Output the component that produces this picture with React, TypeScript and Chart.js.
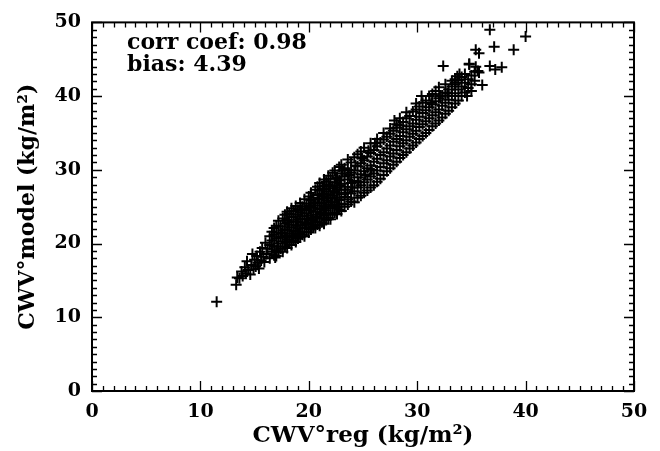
import React, { useEffect, useRef } from "react";
import { Chart, registerables } from "chart.js";

Chart.register(...registerables);

// ---- data ----
const xTicks = [0, 10, 20, 30, 40, 50];
const yTicks = [0, 10, 20, 30, 40, 50];
const xTitle = "CWV°reg (kg/m²)";
const yTitle = "CWV°model (kg/m²)";
const statLines = ["corr coef: 0.98", "bias: 4.39"];

const outliers: [number, number][] = [
  [11.5, 12.1], [13.3, 14.4], [13.4, 15.4], [36.7, 49.0], [40.0, 48.1], [37.1, 46.7],
  [38.9, 46.3], [35.4, 46.3], [35.7, 45.8], [32.4, 44.1], [36.7, 44.1], [37.2, 43.6],
  [37.8, 43.9], [34.8, 44.4], [35.4, 44.0], [35.7, 43.2], [36.0, 41.5], [33.7, 42.7],
  [33.5, 42.3], [30.4, 40.0], [28.4, 37.0], [27.9, 36.7], [34.8, 44.3], [35.6, 43.4],
  [33.9, 43.0], [33.5, 41.6], [32.1, 40.0], [31.3, 39.1], [35.0, 40.7], [34.6, 40.0],
  [32.8, 40.4],
];

const lowTail: [number, number][] = [
  [13.6, 15.3], [13.8, 16.2], [13.9, 15.6], [14.1, 16.8], [14.2, 15.9], [14.3, 17.6],
  [14.4, 16.4], [14.6, 15.8], [14.7, 17.1], [14.8, 18.6], [14.9, 16.5], [15.0, 17.8],
  [15.1, 16.9], [15.2, 18.3], [15.3, 17.4], [15.4, 16.6], [15.5, 18.9], [15.6, 17.7],
  [15.7, 19.4], [15.8, 18.2], [15.9, 17.5], [16.0, 20.1], [16.1, 18.6], [16.2, 19.3],
  [16.9, 18.1], [17.0, 18.3],
];

const coreBand: [number, number][] = [
  [16.4, 18.0], [16.4, 19.8], [16.4, 21.0], [16.6, 18.9], [16.6, 20.4], [16.6, 21.6],
  [16.8, 18.4], [16.8, 19.6], [16.8, 21.2], [16.8, 22.1], [17.0, 19.1], [17.0, 20.7],
  [17.0, 22.4], [17.2, 18.8], [17.2, 20.0], [17.2, 21.5], [17.2, 23.1], [17.4, 19.3],
  [17.4, 20.9], [17.4, 22.3], [17.6, 18.9], [17.6, 20.3], [17.6, 21.8], [17.6, 23.4],
  [17.8, 19.6], [17.8, 21.1], [17.8, 22.7], [17.8, 23.9], [18.0, 19.4], [18.0, 20.6],
  [18.0, 21.9], [18.0, 23.2], [18.0, 24.3], [18.2, 20.1], [18.2, 21.4], [18.2, 22.6],
  [18.2, 24.0], [18.4, 19.8], [18.4, 20.9], [18.4, 22.2], [18.4, 23.6], [18.4, 24.8],
  [18.6, 20.4], [18.6, 21.7], [18.6, 23.0], [18.6, 24.4], [18.8, 20.2], [18.8, 21.3],
  [18.8, 22.5], [18.8, 23.9], [18.8, 25.1], [19.0, 20.7], [19.0, 22.0], [19.0, 23.3],
  [19.0, 24.6], [19.2, 20.9], [19.2, 21.6], [19.2, 22.9], [19.2, 24.2], [19.2, 25.5],
  [19.4, 21.2], [19.4, 22.4], [19.4, 23.7], [19.4, 25.0], [19.6, 21.0], [19.6, 22.1],
  [19.6, 23.4], [19.6, 24.7], [19.6, 26.0], [19.8, 21.6], [19.8, 22.8], [19.8, 24.1],
  [19.8, 25.4], [20.0, 21.5], [20.0, 22.6], [20.0, 23.8], [20.0, 25.1], [20.0, 26.4],
  [20.2, 21.9], [20.2, 23.2], [20.2, 24.5], [20.2, 25.9], [20.2, 26.9], [20.4, 22.3],
  [20.4, 23.5], [20.4, 24.9], [20.4, 26.2], [20.6, 22.1], [20.6, 23.0], [20.6, 24.3],
  [20.6, 25.6], [20.6, 27.3], [20.8, 22.6], [20.8, 23.9], [20.8, 25.2], [20.8, 26.6],
  [20.8, 27.7], [21.0, 22.4], [21.0, 23.4], [21.0, 24.7], [21.0, 26.0], [21.0, 27.2],
  [21.0, 28.2], [21.2, 22.9], [21.2, 24.2], [21.2, 25.5], [21.2, 26.8], [21.4, 22.7],
  [21.4, 23.8], [21.4, 25.0], [21.4, 26.4], [21.4, 27.9], [21.4, 28.7], [21.6, 23.2],
  [21.6, 24.5], [21.6, 25.8], [21.6, 27.1], [21.6, 28.4], [21.8, 23.5], [21.8, 24.1],
  [21.8, 25.3], [21.8, 26.7], [21.8, 28.0], [21.8, 29.2], [22.0, 23.3], [22.0, 24.8],
  [22.0, 26.1], [22.0, 27.5], [22.0, 28.8], [22.2, 23.9], [22.2, 25.1], [22.2, 26.5],
  [22.2, 27.8], [22.2, 29.6], [22.4, 24.2], [22.4, 25.6], [22.4, 26.9], [22.4, 28.3],
  [22.4, 29.9], [22.6, 24.0], [22.6, 24.9], [22.6, 26.2], [22.6, 27.6], [22.6, 29.0],
  [22.8, 24.6], [22.8, 25.9], [22.8, 27.3], [22.8, 28.6], [22.8, 30.4], [23.0, 24.4],
  [23.0, 25.4], [23.0, 26.7], [23.0, 28.1], [23.0, 29.5], [23.0, 30.7], [23.3, 25.0],
  [23.3, 26.3], [23.3, 27.7], [23.3, 29.1], [23.3, 30.2], [23.6, 25.3], [23.6, 26.0],
  [23.6, 27.3], [23.6, 28.7], [23.6, 30.0], [23.6, 31.4], [23.9, 25.7], [23.9, 26.8],
  [23.9, 28.2], [23.9, 29.6], [23.9, 31.0], [24.2, 25.6], [24.2, 27.1], [24.2, 28.5],
  [24.2, 29.9], [24.2, 31.7], [24.5, 26.2], [24.5, 27.6], [24.5, 29.0], [24.5, 30.5],
  [24.5, 32.1], [24.8, 26.5], [24.8, 27.9], [24.8, 29.4], [24.8, 30.9], [24.8, 32.5],
  [25.1, 26.9], [25.1, 28.3], [25.1, 29.8], [25.1, 31.3], [25.1, 33.0], [25.4, 27.2],
  [25.4, 28.7], [25.4, 30.2], [25.4, 31.8], [25.7, 27.6], [25.7, 29.1], [25.7, 30.6],
  [25.7, 32.3], [25.7, 33.6], [26.0, 27.9], [26.0, 29.5], [26.0, 31.1], [26.0, 32.7],
];

const coreFill: [number, number][] = [
  [17.1, 19.6], [17.5, 21.4], [17.9, 20.2], [18.1, 22.9], [18.5, 21.1], [18.9, 23.0],
  [19.1, 21.4], [19.3, 24.5], [19.7, 22.6], [19.9, 23.3], [20.1, 24.9], [20.3, 22.9],
  [20.5, 25.5], [20.7, 23.6], [20.9, 26.1], [21.1, 24.0], [21.3, 27.4], [21.5, 24.8],
  [21.7, 26.2], [21.9, 27.8], [22.1, 25.6], [22.3, 27.1], [22.5, 28.8], [22.7, 25.3],
  [22.9, 27.9], [23.1, 29.9], [23.4, 26.9], [23.7, 29.3], [24.0, 27.6], [24.3, 30.6],
  [24.6, 28.3], [24.9, 31.6], [25.2, 29.3], [25.5, 32.6], [25.8, 30.0], [26.1, 33.6],
];

const upperBand: [number, number][] = [
  [26.3, 28.4], [26.3, 29.9], [26.3, 31.5], [26.3, 33.2], [26.3, 34.2], [26.6, 28.8],
  [26.6, 30.4], [26.6, 32.0], [26.6, 33.7], [26.9, 29.3], [26.9, 30.9], [26.9, 32.4],
  [26.9, 34.1], [26.9, 35.0], [27.2, 29.8], [27.2, 31.3], [27.2, 32.9], [27.2, 34.5],
  [27.5, 30.2], [27.5, 31.8], [27.5, 33.3], [27.5, 34.9], [27.5, 35.6], [27.8, 30.7],
  [27.8, 32.2], [27.8, 33.8], [27.8, 35.3], [28.1, 31.1], [28.1, 32.7], [28.1, 34.2],
  [28.1, 35.7], [28.1, 36.2], [28.4, 31.6], [28.4, 33.2], [28.4, 34.6], [28.4, 36.0],
  [28.7, 32.0], [28.7, 33.6], [28.7, 35.1], [28.7, 36.5], [29.0, 32.4], [29.0, 34.0],
  [29.0, 35.5], [29.0, 37.0], [29.0, 37.8], [29.3, 32.9], [29.3, 34.5], [29.3, 35.9],
  [29.3, 37.3], [29.6, 33.3], [29.6, 34.9], [29.6, 36.3], [29.6, 37.9], [29.9, 33.7],
  [29.9, 35.3], [29.9, 36.8], [29.9, 38.2], [29.9, 39.0], [30.2, 34.2], [30.2, 35.8],
  [30.2, 37.2], [30.2, 38.6], [30.5, 34.6], [30.5, 36.2], [30.5, 37.7], [30.5, 39.1],
  [30.8, 35.0], [30.8, 36.6], [30.8, 38.1], [30.8, 39.4], [31.1, 35.4], [31.1, 37.0],
  [31.1, 38.5], [31.1, 40.0], [31.4, 35.9], [31.4, 37.4], [31.4, 38.9], [31.4, 40.3],
  [31.7, 36.3], [31.7, 37.8], [31.7, 39.3], [31.7, 40.7], [32.0, 36.7], [32.0, 38.2],
  [32.0, 39.7], [32.0, 41.2], [32.3, 37.1], [32.3, 38.7], [32.3, 40.1], [32.6, 37.6],
  [32.6, 39.1], [32.6, 40.5], [32.6, 41.6], [32.9, 38.0], [32.9, 39.5], [32.9, 40.9],
  [33.2, 38.5], [33.2, 40.0], [33.2, 41.3], [33.2, 42.1], [33.5, 39.0], [33.5, 40.4],
  [33.5, 41.8], [33.8, 39.4], [33.8, 40.9], [33.8, 42.2], [34.1, 40.0], [34.1, 41.3],
  [34.1, 42.6], [34.4, 40.5], [34.4, 41.8], [34.4, 43.0], [34.7, 41.1], [34.7, 42.3],
  [35.0, 41.6], [35.0, 42.8], [35.3, 42.1], [35.3, 43.3],
];

const allPoints = [...lowTail, ...coreBand, ...coreFill, ...upperBand, ...outliers].map(([x, y]) => ({ x, y }));

const FONT = "'DejaVu Serif', serif";

const framePlugin = {
  id: "idlFrame",
  afterDraw(chart: any) {
    const { ctx, chartArea: a, scales } = chart;
    const xs = scales.x;
    const ys = scales.y;
    ctx.save();
    ctx.strokeStyle = "#000";
    ctx.lineWidth = 2;
    ctx.strokeRect(a.left, a.top, a.right - a.left, a.bottom - a.top);
    ctx.lineWidth = 1.3;
    ctx.beginPath();
    for (let v = 0; v <= 50; v += 1) {
      const major = v % 10 === 0;
      const len = major ? 10 : 5;
      const px = Math.round(xs.getPixelForValue(v)) + 0.5;
      ctx.moveTo(px, a.bottom);
      ctx.lineTo(px, a.bottom - len);
      ctx.moveTo(px, a.top);
      ctx.lineTo(px, a.top + len);
      const py = Math.round(ys.getPixelForValue(v)) + 0.5;
      ctx.moveTo(a.left, py);
      ctx.lineTo(a.left + len, py);
      ctx.moveTo(a.right, py);
      ctx.lineTo(a.right - len, py);
    }
    ctx.stroke();
    ctx.fillStyle = "#000";
    ctx.font = `bold 22px ${FONT}`;
    ctx.textBaseline = "alphabetic";
    ctx.textAlign = "left";
    ctx.fillText(statLines[0], a.left + 35, a.top + 27);
    ctx.fillText(statLines[1], a.left + 35, a.top + 49);
    ctx.restore();
  },
};

export default function App() {
  const ref = useRef<HTMLCanvasElement | null>(null);
  useEffect(() => {
    if (!ref.current) return;
    const chart = new Chart(ref.current, {
      type: "scatter",
      data: {
        datasets: [
          {
            data: allPoints,
            pointStyle: "cross",
            pointRadius: 5.5,
            pointBorderWidth: 2,
            borderColor: "#000",
            backgroundColor: "#000",
          } as any,
        ],
      },
      options: {
        animation: false,
        responsive: false,
        maintainAspectRatio: false,
        layout: { padding: { top: 13, right: 26, left: 0, bottom: 0 } },
        plugins: { legend: { display: false }, tooltip: { enabled: false } },
        scales: {
          x: {
            type: "linear",
            min: 0,
            max: 50,
            afterFit: (s: any) => { s.height = 60; },
            afterBuildTicks: (s: any) => { s.ticks = xTicks.map((v) => ({ value: v })); },
            grid: { display: false, drawTicks: false },
            border: { display: false },
            ticks: { color: "#000", padding: 10, font: { family: FONT, size: 19, weight: "bold" } },
            title: { display: true, text: xTitle, color: "#000", padding: 1, font: { family: FONT, size: 23, weight: "bold" } },
          },
          y: {
            type: "linear",
            min: 0,
            max: 50,
            afterFit: (s: any) => { s.width = 92; },
            afterBuildTicks: (s: any) => { s.ticks = yTicks.map((v) => ({ value: v })); },
            grid: { display: false, drawTicks: false },
            border: { display: false },
            ticks: { color: "#000", padding: 11, font: { family: FONT, size: 19, weight: "bold" } },
            title: { display: true, text: yTitle, color: "#000", padding: 15, font: { family: FONT, size: 22, weight: "bold" } },
          },
        },
      },
      plugins: [framePlugin],
    } as any);
    return () => chart.destroy();
  }, []);
  return (
    <div style={{ position: "absolute", left: 0, top: 0, width: 660, height: 451, background: "#fff" }}>
      <canvas ref={ref} width={660} height={451} style={{ width: 660, height: 451 }} />
    </div>
  );
}
